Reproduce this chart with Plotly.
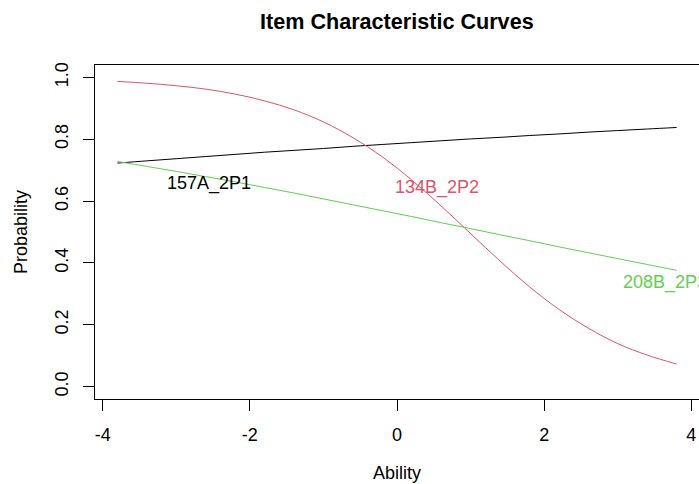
import plotly.graph_objects as go

# Ability grid and read-off probabilities for each item
theta = [-3.8, -3.4, -3.0, -2.6, -2.2, -1.8, -1.4, -1.0, -0.6, -0.2,
         0.2, 0.6, 1.0, 1.4, 1.8, 2.2, 2.6, 3.0, 3.4, 3.8]
p_157A_2P1 = [0.723, 0.730, 0.737, 0.744, 0.751, 0.758, 0.764, 0.770, 0.777, 0.783,
              0.789, 0.795, 0.801, 0.806, 0.812, 0.817, 0.823, 0.828, 0.833, 0.838]
p_134B_2P2 = [0.987, 0.981, 0.973, 0.962, 0.946, 0.924, 0.895, 0.856, 0.805, 0.743,
              0.668, 0.584, 0.495, 0.406, 0.323, 0.250, 0.189, 0.139, 0.102, 0.073]
p_208B_2P3 = [0.728, 0.712, 0.696, 0.679, 0.662, 0.644, 0.626, 0.607, 0.588, 0.569,
              0.550, 0.530, 0.511, 0.491, 0.472, 0.452, 0.433, 0.414, 0.395, 0.376]

item_names = ["157A_2P1", "134B_2P2", "208B_2P3"]
item_colors = ["#000000", "#DF536B", "#61D04F"]
label_theta = [-2.55, 0.545, 3.04]
label_prob = [0.658, 0.644, 0.338]
label_anchor = ["center", "center", "left"]

x_ticks = [-4, -2, 0, 2, 4]
y_ticks = [0.0, 0.2, 0.4, 0.6, 0.8, 1.0]
y_ticklabels = ["0.0", "0.2", "0.4", "0.6", "0.8", "1.0"]

FONT = "Liberation Sans, Arial, sans-serif"

fig = go.Figure()
for name, ys, col in zip(item_names, [p_157A_2P1, p_134B_2P2, p_208B_2P3], item_colors):
    fig.add_trace(go.Scatter(x=theta, y=ys, mode="lines", name=name,
                             line=dict(color=col, width=1, shape="spline"),
                             showlegend=False, hoverinfo="skip"))

annotations = []
for name, tx, ty, col, anc in zip(item_names, label_theta, label_prob, item_colors, label_anchor):
    annotations.append(dict(x=tx, y=ty, xref="x", yref="y", text=name, showarrow=False,
                            xanchor=anc, yanchor="middle",
                            font=dict(family=FONT, size=18, color=col)))

annotations += [
    dict(x=0.5, y=(399 - 21) / 334, xref="paper", yref="paper", text="<b>Item Characteristic Curves</b>",
         showarrow=False, xanchor="center", yanchor="middle",
         font=dict(family=FONT, size=21.6, color="black")),
    dict(x=0.5, y=(399 - 473) / 334, xref="paper", yref="paper", text="Ability",
         showarrow=False, xanchor="center", yanchor="middle",
         font=dict(family=FONT, size=18, color="black")),
    dict(x=(21 - 95) / 604, y=0.5, xref="paper", yref="paper", text="Probability",
         showarrow=False, xanchor="center", yanchor="middle", textangle=-90,
         font=dict(family=FONT, size=18, color="black")),
]

fig.update_layout(
    width=699, height=484,
    margin=dict(l=95, r=0, t=65, b=85),
    paper_bgcolor="white", plot_bgcolor="white",
    annotations=annotations,
    font=dict(family=FONT, size=18, color="black"),
)
fig.update_xaxes(range=[-4.104, 4.104], tickvals=x_ticks, ticktext=[str(v) for v in x_ticks],
                 showgrid=False, zeroline=False, showline=True, mirror=True,
                 linecolor="black", linewidth=1, ticks="outside", ticklen=11,
                 tickcolor="black", tickwidth=1, ticklabelstandoff=8,
                 tickfont=dict(family=FONT, size=18, color="black"))
fig.update_yaxes(range=[-0.04, 1.04], tickvals=y_ticks, ticktext=y_ticklabels,
                 showgrid=False, zeroline=False, showline=True, mirror=False,
                 linecolor="black", linewidth=1, ticks="outside", ticklen=11,
                 tickcolor="black", tickwidth=1, tickangle=-90, ticklabelstandoff=8,
                 tickfont=dict(family=FONT, size=18, color="black"))

fig.write_html("out.html")
